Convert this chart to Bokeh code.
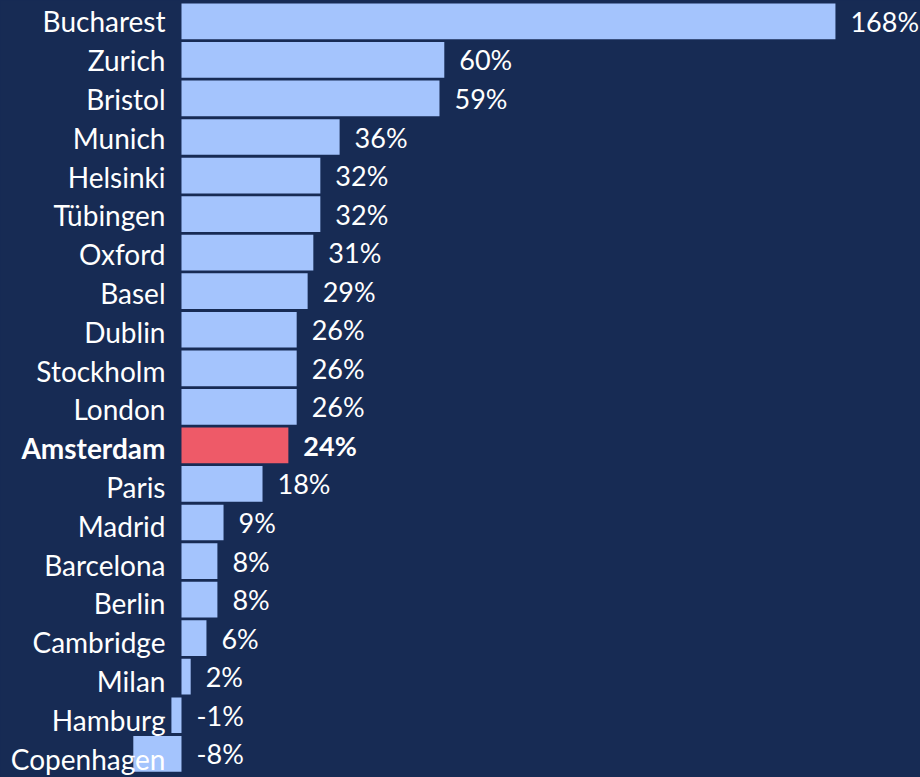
from bokeh.plotting import figure
from bokeh.models import ColumnDataSource, Range1d, GlobalInlineStyleSheet
from bokeh.core.properties import value
from bokeh.embed import file_html
from bokeh.resources import INLINE

cities = ["Bucharest", "Zurich", "Bristol", "Munich", "Helsinki", "Tübingen", "Oxford",
          "Basel", "Dublin", "Stockholm", "London", "Amsterdam", "Paris", "Madrid",
          "Barcelona", "Berlin", "Cambridge", "Milan", "Hamburg", "Copenhagen"]
# bar lengths as drawn (percent units)
bar_values = [149.3, 60.0, 58.9, 36.1, 31.7, 31.7, 30.1, 28.8, 26.3, 26.3, 26.3, 24.4,
              18.5, 9.6, 8.2, 8.2, 5.7, 2.1, -2.3, -11.0]
# value labels printed next to bars
pct_labels = ["168%", "60%", "59%", "36%", "32%", "32%", "31%", "29%", "26%", "26%",
              "26%", "24%", "18%", "9%", "8%", "8%", "6%", "2%", "-1%", "-8%"]
highlight = "Amsterdam"

BG = "#172b54"
BAR = "#a4c4fd"
RED = "#ee5a68"
FONT = "Lato"

rows = list(range(len(cities)))
colors = [RED if c == highlight else BAR for c in cities]
styles = ["bold" if c == highlight else "normal" for c in cities]
label_x = [max(v, 0) for v in bar_values]

src = ColumnDataSource(dict(row=rows, city=cities, val=bar_values, color=colors,
                            pct=pct_labels, style=styles, lx=label_x))

p = figure(width=920, height=777, output_backend="svg", toolbar_location=None,
           x_range=Range1d(-41.32, 168.72), y_range=Range1d(19.615, -0.541),
           min_border=0, border_fill_color=BG, background_fill_color=BG,
           outline_line_color=None)
# the category labels sit on a slightly wider row pitch than the bars
p.extra_y_ranges = {"names": Range1d(19.188, -0.832)}
p.axis.visible = False
p.grid.visible = False

p.hbar(y="row", left=0, right="val", height=0.926, fill_color="color",
       line_color=None, source=src)

p.text(x=0, y="row", text="city", source=src, x_offset=-16, y_offset=-11.5,
       y_range_name="names",
       text_align="right", text_baseline="alphabetic", text_color="white",
       text_font=value(FONT), text_font_size="28px", text_font_style="style")

p.text(x="lx", y="row", text="pct", source=src, x_offset=15, y_offset=0,
       text_align="left", text_baseline="alphabetic", text_color="white",
       text_font=value(FONT), text_font_size="27px", text_font_style="style")

p.stylesheets = [GlobalInlineStyleSheet(css="html, body { margin: 0; padding: 0; overflow: hidden; background: #172b54; }")]

open("out.html", "w").write(file_html(p, INLINE))
